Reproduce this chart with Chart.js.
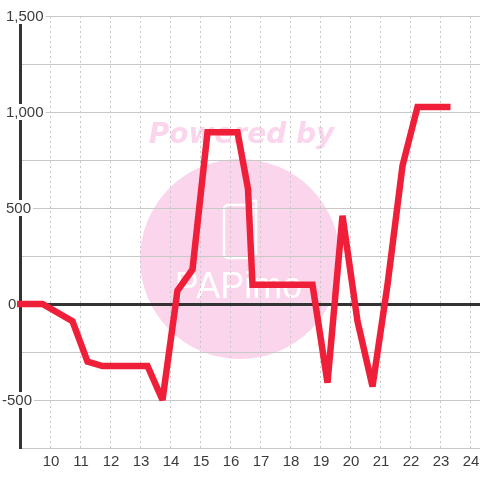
<!DOCTYPE html>
<html>
<head>
<meta charset="utf-8">
<style>
  html, body { margin: 0; padding: 0; background: #fff; }
  #wrap { width: 480px; height: 480px; }
</style>
<script src="https://cdn.jsdelivr.net/npm/chart.js@4/dist/chart.umd.min.js"></script>
</head>
<body>
<div id="wrap"><canvas id="chart" width="480" height="480"></canvas></div>
<script>
const hours = [8.9, 9.75, 10.75, 11.25, 11.75, 13.25, 13.75, 14.25, 14.75, 15.25, 16.25, 16.6, 16.75, 18.75, 19.25, 19.75, 20.25, 20.75, 21.25, 21.75, 22.25, 23.35];
const values = [0, 0, -90, -300, -323, -323, -500, 70, 180, 895, 895, 600, 100, 100, -410, 460, -90, -430, 100, 720, 1026, 1026];

const xTicks = [9, 10, 11, 12, 13, 14, 15, 16, 17, 18, 19, 20, 21, 22, 23, 24];
const yLabelled = [1500, 1000, 500, 0, -500];

const FONT = '15px "Liberation Sans"';

// pink watermark sits under everything
const watermark = {
  id: 'watermark',
  beforeDraw(chart) {
    const c = chart.ctx;
    c.save();
    c.fillStyle = '#fbd5ec';
    c.beginPath();
    c.arc(240, 259, 100, 0, Math.PI * 2);
    c.fill();
    c.font = 'italic bold 28px "DejaVu Sans"';
    c.textAlign = 'center';
    c.textBaseline = 'middle';
    c.fillText('Powered by', 241.5, 136);
    c.strokeStyle = '#fff';
    c.lineWidth = 2.5;
    c.beginPath();
    c.roundRect(224, 205, 29, 53, 4);
    c.stroke();
    c.beginPath();
    c.moveTo(250, 201);
    c.lineTo(256, 201);
    c.lineTo(256, 255);
    c.stroke();
    c.fillStyle = '#fff';
    c.font = '36px "Liberation Sans"';
    c.textBaseline = 'alphabetic';
    c.fillText('PAPimo', 238.5, 298);
    c.restore();
  }
};

// y labels have a white box behind them and are not aligned to one edge
const yLabels = {
  id: 'yLabels',
  beforeDatasetsDraw(chart) {
    const c = chart.ctx;
    const y = chart.scales.y;
    c.save();
    c.font = FONT;
    c.textBaseline = 'middle';
    c.textAlign = 'left';
    yLabelled.forEach(v => {
      const text = v.toLocaleString('en-US');
      const left = v < 0 ? 2 : v === 0 ? 8 : 6;
      const w = c.measureText(text).width;
      const py = y.getPixelForValue(v);
      c.fillStyle = '#fff';
      c.fillRect(left - 1, py - 8, w + 3, 16);
      c.fillStyle = '#3c3c3c';
      c.fillText(text, left, py + 1);
    });
    c.restore();
    // sharp spikes get cut flat
    chart.ctx.miterLimit = 3;
  }
};

new Chart(document.getElementById('chart'), {
  type: 'line',
  data: {
    datasets: [{
      data: hours.map((h, i) => ({ x: h, y: values[i] })),
      borderColor: '#f01f39',
      borderWidth: 6.5,
      borderJoinStyle: 'miter',
      borderCapStyle: 'butt',
      pointRadius: 0,
      tension: 0,
      clip: false
    }]
  },
  plugins: [watermark, yLabels],
  options: {
    responsive: false,
    animation: false,
    layout: { padding: { top: 16, left: 0, right: 0, bottom: 0 } },
    plugins: { legend: { display: false }, tooltip: { enabled: false } },
    scales: {
      x: {
        type: 'linear',
        min: 9,
        max: 24.3333,
        afterBuildTicks(axis) { axis.ticks = xTicks.map(v => ({ value: v })); },
        afterFit(axis) {
          axis.height = 32;
          axis.paddingLeft = 0;
          axis.paddingRight = 0;
        },
        grid: {
          color: ctx => ctx.tick.value === 9 ? 'transparent' : '#c8c8c8',
          lineWidth: 1,
          drawTicks: false
        },
        border: { display: false, dash: [2, 3] },
        ticks: {
          color: '#3c3c3c',
          font: { family: 'Liberation Sans', size: 15 },
          padding: 5,
          labelOffset: 1,
          maxRotation: 0,
          autoSkip: false,
          callback: v => v === 9 ? '' : String(v)
        }
      },
      y: {
        min: -750,
        max: 1500,
        afterFit(axis) { axis.width = 20; },
        ticks: { stepSize: 250, display: false },
        border: { color: '#333', width: 3 },
        grid: {
          color: ctx => ctx.tick.value === 0 ? '#333' : '#c8c8c8',
          lineWidth: ctx => ctx.tick.value === 0 ? 3 : 1,
          drawTicks: false
        }
      }
    }
  }
});
</script>
</body>
</html>
